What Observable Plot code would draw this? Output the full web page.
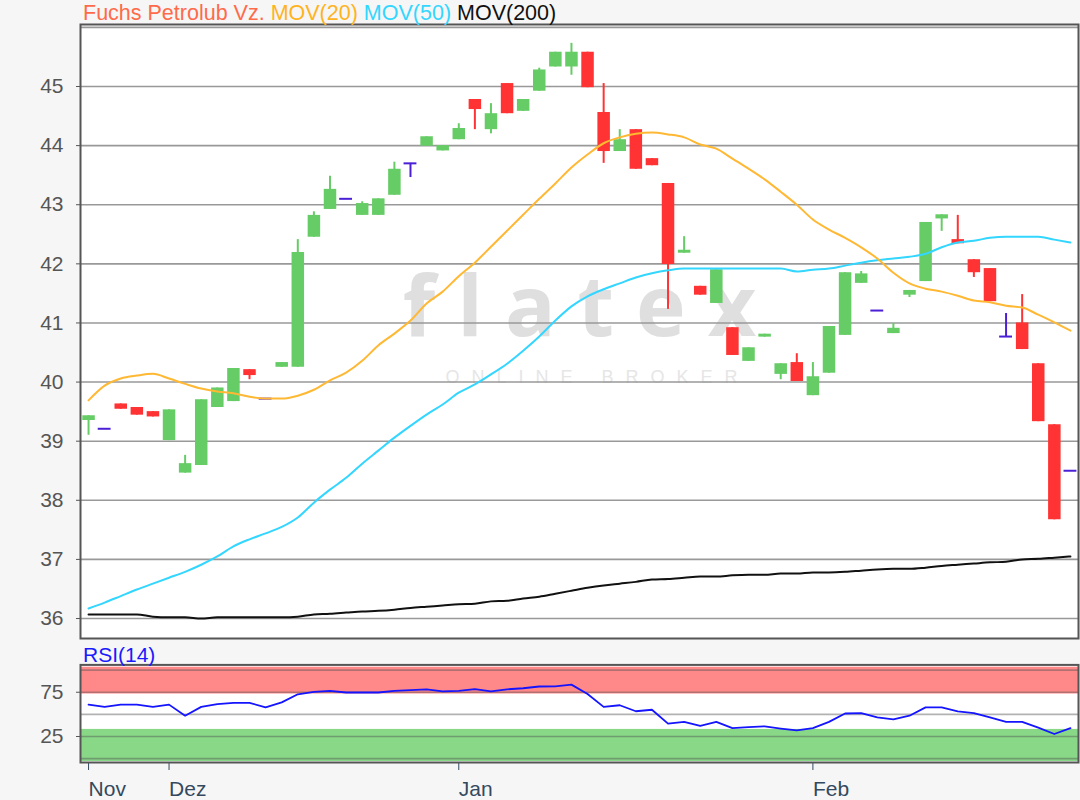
<!DOCTYPE html>
<html><head><meta charset="utf-8">
<script src="https://cdn.jsdelivr.net/npm/d3@7"></script>
<script src="https://cdn.jsdelivr.net/npm/@observablehq/plot@0.6"></script>
<style>
html,body{margin:0;padding:0;background:#f6f6f6;}
#wrap{position:relative;width:1080px;height:800px;font-family:"Liberation Sans",Arial,sans-serif;overflow:hidden;}
#main{position:absolute;left:0;top:0;}
#rsi{position:absolute;left:0;top:660px;}
#title{position:absolute;left:83px;top:1px;font-size:21.5px;line-height:24px;white-space:nowrap;}
#rsiLabel{position:absolute;left:83px;top:643px;font-size:21px;line-height:24px;color:#1a1aff;white-space:nowrap;}
</style></head><body>
<div id="wrap">
  <div id="main"></div>
  <div id="rsi"></div>
  <div id="title"><span style="color:#ff6a4a">Fuchs Petrolub Vz.</span> <span style="color:#ffb31f">MOV(20)</span> <span style="color:#33d6ff">MOV(50)</span> <span style="color:#111">MOV(200)</span></div>
  <div id="rsiLabel">RSI(14)</div>
</div>
<script>
// ---- data ----
const candleIdx = d3.range(62);
const opens  = [39.35,39.21,39.63,39.57,39.50,39.01,38.46,38.59,39.57,39.67,40.21,39.72,40.25,40.25,42.45,42.92,43.10,42.82,42.82,43.16,43.70,43.99,43.91,44.10,44.78,44.27,45.05,44.58,44.92,45.33,45.33,45.58,44.56,43.90,44.27,43.78,43.36,42.18,41.62,41.33,40.92,40.35,40.76,40.13,40.33,39.77,40.15,40.79,41.67,41.21,40.82,41.47,41.70,42.76,42.41,42.07,41.92,40.77,41.00,40.31,39.28,38.50];
const highs  = [39.43,39.21,39.63,39.57,39.50,39.53,38.76,39.70,39.90,40.23,40.21,39.72,40.33,42.41,42.88,43.48,43.10,43.05,43.10,43.72,43.70,44.15,44.00,44.37,44.78,44.71,45.05,44.78,45.31,45.58,45.73,45.58,45.05,44.27,44.27,43.78,43.36,42.46,41.62,41.90,40.92,40.58,40.81,40.31,40.48,40.33,40.94,41.85,41.87,41.21,40.99,41.55,42.70,42.83,42.82,42.07,41.92,41.16,41.48,40.31,39.28,38.50];
const lows   = [39.10,39.21,39.54,39.44,39.41,39.01,38.46,38.59,39.57,39.67,40.04,39.72,40.25,40.25,42.45,42.92,43.10,42.82,42.82,43.16,43.46,43.99,43.91,44.10,44.27,44.20,44.54,44.58,44.92,45.33,45.19,44.98,43.70,43.90,43.60,43.66,41.23,42.18,41.47,41.33,40.45,40.35,40.76,40.04,40.01,39.77,40.15,40.79,41.67,41.21,40.82,41.43,41.70,42.55,42.34,41.77,41.36,40.77,40.55,39.33,37.67,38.50];
const closes = [39.43,39.21,39.54,39.44,39.41,39.53,38.62,39.70,39.90,40.23,40.11,39.72,40.33,42.19,42.82,43.26,43.10,43.02,43.10,43.60,43.70,44.15,44.00,44.29,44.61,44.54,44.54,44.78,45.28,45.58,45.58,44.98,43.90,44.10,43.60,43.66,41.99,42.23,41.47,41.90,40.45,40.58,40.81,40.31,40.01,40.09,40.94,41.85,41.83,41.21,40.91,41.55,42.70,42.83,42.34,41.85,41.36,40.77,40.55,39.33,37.67,38.50];
const mov20  = [39.69,39.94,40.06,40.11,40.14,40.06,39.97,39.89,39.84,39.81,39.75,39.72,39.72,39.77,39.87,40.03,40.16,40.36,40.62,40.82,41.04,41.33,41.53,41.79,42.02,42.29,42.56,42.83,43.10,43.36,43.63,43.85,44.04,44.14,44.20,44.22,44.19,44.14,44.02,43.95,43.78,43.61,43.43,43.22,43.00,42.75,42.58,42.44,42.28,42.09,41.85,41.67,41.58,41.53,41.46,41.38,41.35,41.29,41.26,41.14,41.01,40.87];
const mov50  = [36.17,36.27,36.38,36.49,36.59,36.69,36.79,36.91,37.05,37.22,37.34,37.44,37.55,37.71,37.96,38.18,38.38,38.62,38.84,39.06,39.26,39.45,39.62,39.82,39.96,40.13,40.31,40.53,40.77,41.04,41.28,41.45,41.57,41.67,41.77,41.84,41.89,41.92,41.92,41.92,41.92,41.92,41.92,41.92,41.87,41.90,41.92,41.97,42.02,42.06,42.09,42.12,42.17,42.28,42.36,42.39,42.44,42.46,42.46,42.46,42.41,42.36];
const mov200 = [36.07,36.07,36.07,36.07,36.03,36.02,36.02,36.00,36.02,36.02,36.02,36.02,36.02,36.03,36.07,36.08,36.10,36.12,36.13,36.15,36.18,36.20,36.22,36.24,36.25,36.29,36.30,36.34,36.37,36.42,36.47,36.52,36.56,36.59,36.62,36.66,36.67,36.69,36.71,36.71,36.73,36.74,36.74,36.76,36.76,36.78,36.78,36.79,36.81,36.83,36.84,36.84,36.86,36.89,36.91,36.93,36.95,36.96,37.00,37.01,37.03,37.05];
const rsi14  = [61,58.5,61,61,58.5,61,48.5,58.5,61.5,63,63,58,63.5,72.7,75.5,76.5,74.7,74.7,74.7,76.5,77.5,78.3,76,76.6,78.6,76,78.3,79.5,81.5,81.7,83.6,73,58.5,60.3,53.5,55.2,39.6,41.5,36.9,41.5,34.5,35.5,36.5,34,31.8,34.5,41.5,51,51.4,46.6,44.3,48.5,57.9,57.9,53.3,51.4,46.5,41.5,41.5,35,27.8,34.5];
const priceTicks = [36,37,38,39,40,41,42,43,44,45];
const priceGrid  = [36,37,38,39,40,41,42,43,44,45,46];
const rsiTicks = [25,75];
const rsiGrid  = [0,25,50,75,100];
const monthTickIdx = [0,5,23,45];
const monthLabels  = ["Nov","Dez","Jan","Feb"];
const rsiZoneLo = [73,-3.3];
const rsiZoneHi = [103.3,33];
const rsiZoneFill = ["#ff8888","#88d888"];

// ---- build ----
const GREEN = "#66cc66", RED = "#ff3333", DOJI = "#4a1fd6";
const candles = candleIdx.map(i => ({i, o: opens[i], h: highs[i], l: lows[i], c: closes[i],
  ma20: mov20[i], ma50: mov50[i], ma200: mov200[i], rsi: rsi14[i]}));
const colorOf = d => d.c > d.o ? GREEN : d.c < d.o ? RED : DOJI;
const bodies = candles.filter(d => d.c !== d.o);
const dojis = candles.filter(d => d.c === d.o);
const zones = rsiZoneLo.map((lo, k) => ({lo, hi: rsiZoneHi[k], fill: rsiZoneFill[k]}));
const xDomain = [-0.5, 61.5];
const FONT = "Liberation Sans, Arial, sans-serif";

const main = Plot.plot({
  width: 1080, height: 640,
  marginLeft: 80, marginRight: 2, marginTop: 24, marginBottom: 2,
  style: {background: "transparent", fontFamily: FONT, fontSize: "21px", overflow: "visible"},
  x: {domain: xDomain, axis: null},
  y: {domain: [35.662, 46.049], axis: null},
  marks: [
    Plot.frame({fill: "white", stroke: null}),
    Plot.text(["flatex"], {frameAnchor: "middle", dx: 11, dy: -22, fontSize: 84, fontWeight: 700, fill: "#dfdfdf", fontFamily: "Open Sans, sans-serif"}),
    Plot.text(["ONLINE BROKER"], {frameAnchor: "middle", dx: 18, dy: 46, fontSize: 18, fill: "#e6e6e6", fontFamily: FONT}),
    Plot.ruleY(priceGrid, {stroke: "#999", strokeWidth: 1.6}),
    Plot.axisY(priceTicks, {anchor: "left", label: null, tickSize: 4, tickPadding: 13, color: "#555", fontSize: 21, tickFormat: d => String(d)}),
    Plot.ruleX(candles, {x: "i", y1: "l", y2: "h", stroke: colorOf, strokeWidth: 2}),
    Plot.ruleX(bodies, {x: "i", y1: "o", y2: "c", stroke: colorOf, strokeWidth: 12.5}),
    Plot.ruleY(dojis, {y: "c", x1: d => d.i - 0.4, x2: d => d.i + 0.4, stroke: DOJI, strokeWidth: 2}),
    Plot.line(candles, {x: "i", y: "ma200", stroke: "#111", strokeWidth: 2, curve: "monotone-x"}),
    Plot.line(candles, {x: "i", y: "ma50", stroke: "#33d6ff", strokeWidth: 2, curve: "monotone-x"}),
    Plot.line(candles, {x: "i", y: "ma20", stroke: "#ffb833", strokeWidth: 2, curve: "monotone-x"}),
    Plot.frame({stroke: "#555", strokeWidth: 2})
  ]
});
d3.select(main).selectAll("text").each(function() {
  const t = this.textContent;
  if (t === "flatex") this.style.letterSpacing = "22px";
  if (t === "ONLINE BROKER") this.style.letterSpacing = "12px";
});
document.getElementById("main").appendChild(main);

const rsi = Plot.plot({
  width: 1080, height: 140,
  marginLeft: 80, marginRight: 2, marginTop: 4.4, marginBottom: 38,
  style: {background: "transparent", fontFamily: FONT, fontSize: "21px", overflow: "visible"},
  x: {domain: xDomain, axis: null},
  y: {domain: [-4.4, 105.9], axis: null},
  marks: [
    Plot.frame({fill: "white", stroke: null}),
    Plot.rect(zones, {y1: "lo", y2: "hi", fill: "fill"}),
    Plot.ruleY(rsiGrid, {stroke: "#555", strokeOpacity: 0.45, strokeWidth: 1.6}),
    Plot.axisY(rsiTicks, {anchor: "left", label: null, tickSize: 4, tickPadding: 13, color: "#555", fontSize: 21}),
    Plot.axisX(monthTickIdx, {anchor: "bottom", label: null, tickSize: 8, tickPadding: 11, color: "#34495e", fontSize: 21,
      textAnchor: "start", tickFormat: d => monthLabels[monthTickIdx.indexOf(d)]}),
    Plot.line(candles, {x: "i", y: "rsi", stroke: "#1414ff", strokeWidth: 1.8}),
    Plot.frame({stroke: "#555", strokeWidth: 2})
  ]
});
document.getElementById("rsi").appendChild(rsi);
</script>
</body></html>
